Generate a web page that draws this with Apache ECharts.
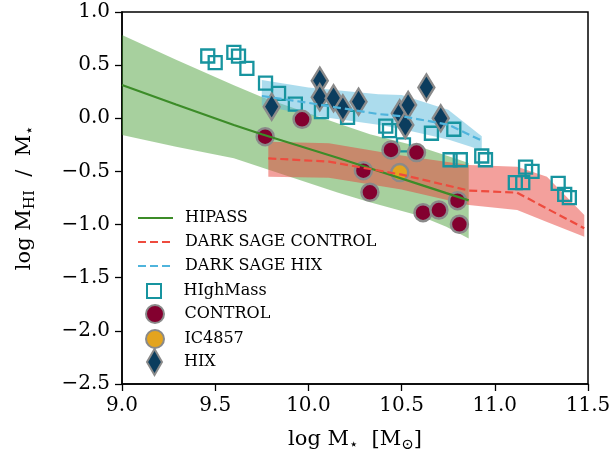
<!DOCTYPE html>
<html>
<head>
<meta charset="utf-8">
<script src="https://cdn.jsdelivr.net/npm/echarts@6/dist/echarts.min.js"></script>
<style>
html, body { margin: 0; background: #fff; }
#main { width: 616px; height: 465px; }
</style>
</head>
<body>
<div id="main"></div>
<script>
// HIPASS running median and scatter
var hipassX   = [9.0, 9.29, 9.6, 9.75, 10.16, 10.33, 10.6, 10.74, 10.86];
var hipassMid = [0.313, 0.13, -0.063, -0.15, -0.373, -0.47, -0.624, -0.704, -0.772];
var hipassHi  = [0.784, 0.55, 0.31, 0.20, -0.05, -0.15, -0.27, -0.35, -0.42];
var hipassLo  = [-0.157, -0.267, -0.376, -0.464, -0.70, -0.79, -0.92, -1.02, -1.13];

// DARK SAGE control sample
var dsControlX   = [9.785, 10.11, 10.5, 10.86, 11.12, 11.28, 11.48];
var dsControlMid = [-0.377, -0.408, -0.53, -0.68, -0.70, -0.85, -1.035];
var dsControlHi  = [-0.22, -0.235, -0.35, -0.44, -0.455, -0.55, -0.91];
var dsControlLo  = [-0.55, -0.56, -0.67, -0.815, -0.863, -0.975, -1.114];

// DARK SAGE HIX sample
var dsHixX   = [9.75, 10.0, 10.375, 10.5, 10.75, 10.93];
var dsHixMid = [0.21, 0.145, 0.04, 0.02, -0.06, -0.21];
var dsHixHi  = [0.36, 0.29, 0.225, 0.22, 0.08, -0.17];
var dsHixLo  = [0.12, 0.03, -0.06, -0.10, -0.20, -0.30];

// galaxies
var highmassX = [9.46, 9.50, 9.60, 9.625, 9.67, 9.77, 9.84, 9.93, 10.07, 10.21, 10.415, 10.435, 10.51,
                 10.66, 10.78, 10.76, 10.815, 10.93, 10.95, 11.11, 11.15, 11.165, 11.2, 11.34, 11.375, 11.40];
var highmassY = [0.586, 0.523, 0.62, 0.585, 0.47, 0.33, 0.235, 0.134, 0.062, 0.009, -0.073, -0.117, -0.25,
                 -0.141, -0.103, -0.39, -0.39, -0.355, -0.39, -0.606, -0.606, -0.46, -0.50, -0.612, -0.715, -0.746];
var controlX = [9.768, 9.966, 10.295, 10.33, 10.443, 10.58, 10.615, 10.70, 10.80, 10.81];
var controlY = [-0.173, -0.01, -0.493, -0.696, -0.298, -0.323, -0.888, -0.863, -0.775, -0.997];
var ic4857X = [10.49];
var ic4857Y = [-0.511];
var hixX = [9.803, 10.061, 10.061, 10.135, 10.185, 10.269, 10.49, 10.52, 10.535, 10.633, 10.71];
var hixY = [0.109, 0.354, 0.197, 0.188, 0.094, 0.156, 0.047, -0.063, 0.125, 0.29, 0.0];

var FONT = 'DejaVu Serif';

function pairs(xs, ys) {
  return xs.map(function (x, i) { return [x, ys[i]]; });
}

// shaded band between lo and hi, one polygon
function band(xs, lo, hi, color) {
  return {
    type: 'custom',
    silent: true,
    data: xs.map(function (x, i) { return [x, lo[i], hi[i]]; }),
    encode: { x: 0, y: [1, 2] },
    renderItem: function (params, api) {
      if (params.dataIndex !== 0) return;
      var pts = [];
      for (var i = 0; i < xs.length; i++) pts.push(api.coord([xs[i], hi[i]]));
      for (var j = xs.length - 1; j >= 0; j--) pts.push(api.coord([xs[j], lo[j]]));
      return { type: 'polygon', shape: { points: pts }, style: { fill: color } };
    }
  };
}

function tick(v) {
  return (v < 0 ? '\u2212' : '') + Math.abs(v).toFixed(1);
}

var labelStyle = { fontFamily: FONT, fontSize: 20, color: '#000' };
var legText = { fontFamily: FONT, fontSize: 16, color: '#000', padding: [0, 0, 0, 7] };
var diamond = 'path://M0,-13L7.5,0L0,13L-7.5,0Z';
var square = 'path://M0,0H10V10H0Z';
var nameRich = {
  t: { fontFamily: FONT, fontSize: 21, color: '#000', lineHeight: 26 },
  s: { fontFamily: FONT, fontSize: 15, color: '#000', verticalAlign: 'bottom', lineHeight: 13 }
};

var myChart = echarts.init(document.getElementById('main'));
var option = {
  animation: false,
  grid: { left: 122, right: 28, top: 12, bottom: 81, show: true, borderColor: '#000', borderWidth: 1.5 },
  legend: [
    { left: 132, top: 205, orient: 'vertical', itemWidth: 35, itemHeight: 14, itemGap: 8,
      textStyle: legText, itemStyle: { opacity: 0 },
      data: ['HIPASS', 'DARK SAGE CONTROL', 'DARK SAGE HIX'] },
    { left: 141, top: 278, orient: 'vertical', itemWidth: 35, itemHeight: 14,
      textStyle: legText, data: [{ name: 'HIghMass', icon: square }] },
    { left: 140, top: 299, orient: 'vertical', itemWidth: 35, itemHeight: 18, itemGap: 5,
      textStyle: legText, data: ['CONTROL', 'IC4857'] },
    { left: 141, top: 343, orient: 'vertical', itemWidth: 35, itemHeight: 26,
      textStyle: legText, data: ['HIX'] }
  ],
  xAxis: {
    type: 'value', min: 9, max: 11.5, interval: 0.5,
    name: '{t|log M}{s|\u22c6}{t|  [M}{s|\u2299}{t|]}',
    nameLocation: 'middle', nameGap: 43,
    nameTextStyle: { rich: nameRich },
    axisLine: { onZero: false, lineStyle: { color: '#000', width: 1.5 } },
    axisTick: { length: 7, lineStyle: { color: '#000', width: 1.3 } },
    axisLabel: Object.assign({ margin: 12, formatter: tick }, labelStyle),
    splitLine: { show: false }
  },
  yAxis: {
    type: 'value', min: -2.5, max: 1, interval: 0.5,
    name: '{t|log M}{s|HI}{t|  /  M}{s|\u22c6}',
    nameLocation: 'middle', nameGap: 84,
    nameTextStyle: { rich: nameRich },
    axisLine: { onZero: false, lineStyle: { color: '#000', width: 1.5 } },
    axisTick: { length: 7, lineStyle: { color: '#000', width: 1.3 } },
    axisLabel: Object.assign({ margin: 12, formatter: tick }, labelStyle),
    splitLine: { show: false }
  },
  series: [
    band(hipassX, hipassLo, hipassHi, 'rgba(60,150,40,0.45)'),
    band(dsControlX, dsControlLo, dsControlHi, 'rgba(232,65,58,0.5)'),
    band(dsHixX, dsHixLo, dsHixHi, 'rgba(90,185,220,0.5)'),
    {
      name: 'HIPASS', type: 'line', symbol: 'none', data: pairs(hipassX, hipassMid),
      lineStyle: { color: '#3c8c28', width: 2.2 }, itemStyle: { color: '#3c8c28' }
    },
    {
      name: 'DARK SAGE CONTROL', type: 'line', symbol: 'none', data: pairs(dsControlX, dsControlMid),
      lineStyle: { color: '#ee4b3e', width: 2.2, type: [8, 4] }, itemStyle: { color: '#ee4b3e' }
    },
    {
      name: 'DARK SAGE HIX', type: 'line', symbol: 'none', data: pairs(dsHixX, dsHixMid),
      lineStyle: { color: '#4fb4dc', width: 2.2, type: [8, 4] }, itemStyle: { color: '#4fb4dc' }
    },
    {
      name: 'HIghMass', type: 'scatter', symbol: 'rect', symbolSize: 13, data: pairs(highmassX, highmassY),
      itemStyle: { color: 'rgba(0,0,0,0)', borderColor: '#17949f', borderWidth: 2.3, opacity: 1 }
    },
    {
      name: 'CONTROL', type: 'scatter', symbol: 'circle', symbolSize: 17, data: pairs(controlX, controlY),
      itemStyle: { color: '#83002f', borderColor: '#8a8a8a', borderWidth: 2.5, opacity: 1 }
    },
    {
      name: 'IC4857', type: 'scatter', symbol: 'circle', symbolSize: 17, data: pairs(ic4857X, ic4857Y),
      itemStyle: { color: '#e3a41f', borderColor: '#8a8a8a', borderWidth: 2.5, opacity: 1 }
    },
    {
      name: 'HIX', type: 'scatter', symbol: diamond, symbolSize: [16, 26],
      data: pairs(hixX, hixY),
      itemStyle: { color: '#0b3d5e', borderColor: '#8a8a8a', borderWidth: 2.5, opacity: 1 }
    }
  ]
};
myChart.setOption(option);
</script>
</body>
</html>
